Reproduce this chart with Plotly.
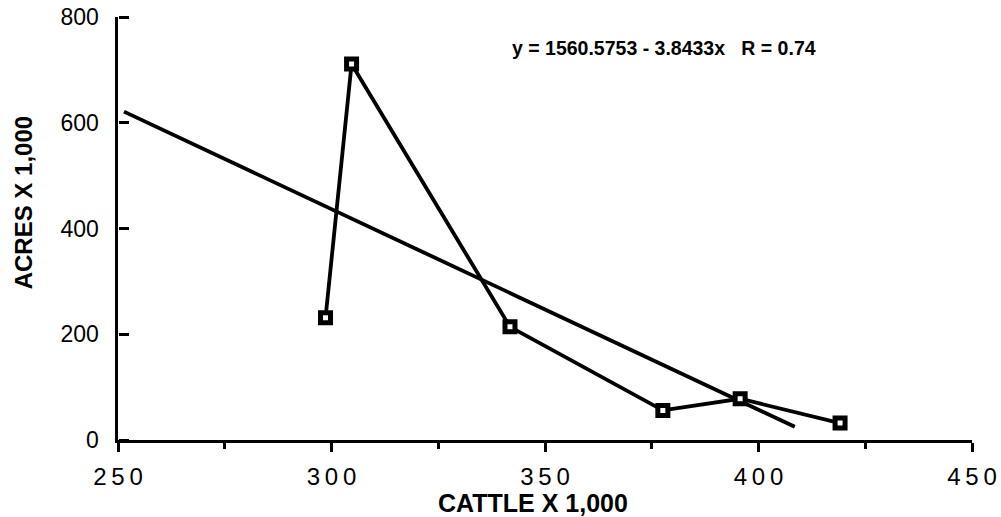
import plotly.graph_objects as go

# Data
cattle = [298.6, 304.7, 341.8, 377.6, 395.7, 419.1]
acres = [231, 711, 214, 56, 78, 32]

# Regression line as drawn (end points)
fit_x = [251.4, 408.5]
fit_y = [621, 25]

x_ticks = [250, 300, 350, 400, 450]
x_ticktext = ["2\u20095\u20090", "3\u20090\u20090", "3\u20095\u20090", "4\u20090\u20090", "4\u20095\u20090"]
y_ticks = [0, 200, 400, 600, 800]
y_ticktext = ["0\u2002", "200\u2002", "400\u2002", "600\u2002", "800\u2002"]

equation = "y = 1560.5753 - 3.8433x   R = 0.74"
x_title = "CATTLE X 1,000"
y_title = "ACRES X 1,000"

FONT = "Liberation Sans, Arial, sans-serif"

fig = go.Figure()
fig.add_trace(go.Scatter(
    x=fit_x, y=fit_y, mode="lines",
    line=dict(color="black", width=3.8),
    showlegend=False, hoverinfo="skip",
))
fig.add_trace(go.Scatter(
    x=cattle, y=acres, mode="lines+markers",
    line=dict(color="black", width=3.8),
    marker=dict(symbol="square", size=10, color="white",
                line=dict(color="black", width=5)),
    showlegend=False,
))
# invisible helper trace so the tick-only overlay axis is drawn
fig.add_trace(go.Scatter(
    x=fit_x, y=fit_y, mode="lines", yaxis="y2", opacity=0,
    line=dict(width=0), showlegend=False, hoverinfo="skip",
))

fig.update_layout(
    width=1001, height=517,
    margin=dict(l=118, r=29, t=17, b=77),
    paper_bgcolor="white", plot_bgcolor="white",
    font=dict(family=FONT, color="black", size=23),
    xaxis=dict(
        range=[250, 450], tickmode="array", tickvals=x_ticks, ticktext=x_ticktext,
        showgrid=False, zeroline=False, automargin=False,
        showline=True, linecolor="black", linewidth=3,
        ticks="outside", ticklen=9, tickwidth=3, tickcolor="black",
        minor=dict(ticks="outside", ticklen=6, tickwidth=2.5, tickcolor="black", dtick=25, showgrid=False),
        tickfont=dict(size=24), ticklabelstandoff=4, ticklabeloverflow="allow",
    ),
    yaxis=dict(
        range=[0, 800], tickmode="array", tickvals=y_ticks, ticktext=y_ticktext,
        showgrid=False, zeroline=False, automargin=False,
        showline=True, linecolor="black", linewidth=3,
        ticks="", tickfont=dict(size=23), ticklabeloverflow="allow",
    ),
    # tick marks pointing into the plot, drawn on the left edge
    yaxis2=dict(
        range=[0, 800], tickmode="array", tickvals=y_ticks,
        overlaying="y", side="right", anchor="free", position=0,
        showticklabels=False, showgrid=False, zeroline=False, showline=False,
        automargin=False,
        ticks="outside", ticklen=10, tickwidth=3, tickcolor="black",
    ),
    annotations=[
        dict(text="<b>" + equation + "</b>", xref="paper", yref="paper",
             x=0.459, y=0.927, xanchor="left", yanchor="middle",
             showarrow=False, font=dict(size=19.5, family=FONT)),
        dict(text="<b>" + x_title + "</b>", xref="paper", yref="paper",
             x=0.486, y=-0.149, xanchor="center", yanchor="middle",
             showarrow=False, font=dict(size=25, family=FONT)),
        dict(text="<b>" + y_title + "</b>", xref="paper", yref="paper",
             x=-0.111, y=0.56, xanchor="center", yanchor="middle", textangle=-90,
             showarrow=False, font=dict(size=24, family=FONT)),
    ],
)

# remove the default page margin so the figure sits at the window's corner
fig.write_html("out.html", config={"displayModeBar": False},
               post_script="document.body.style.margin='0';")
